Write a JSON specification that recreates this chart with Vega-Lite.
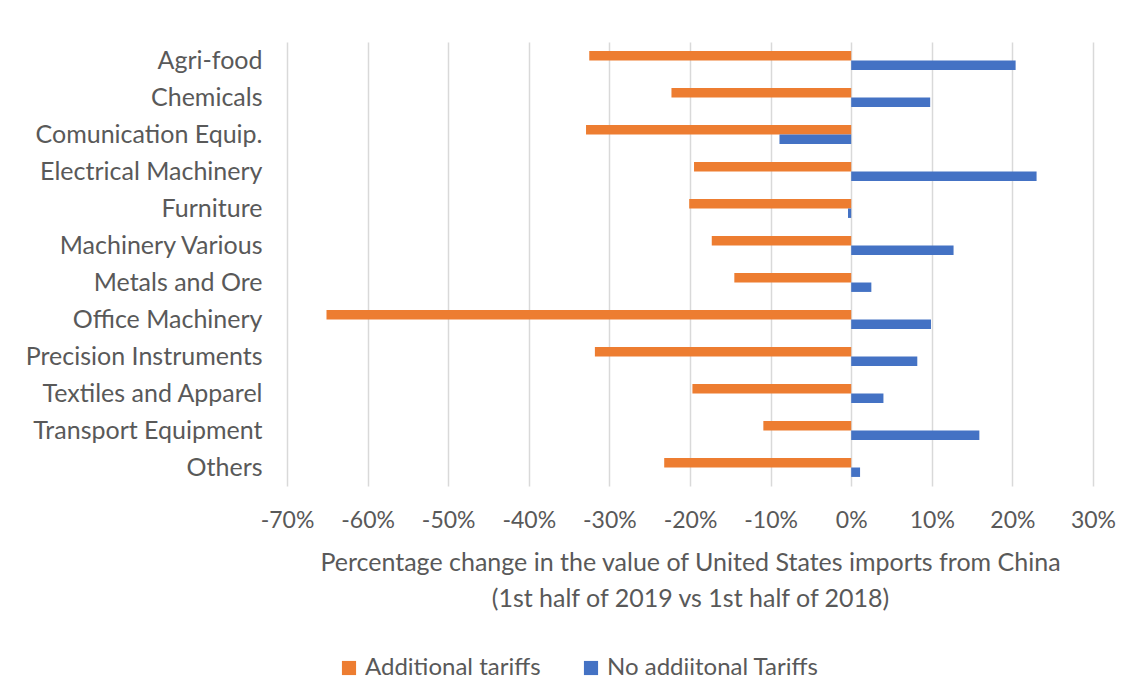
{
  "$schema": "https://vega.github.io/schema/vega-lite/v6.json",
  "width": 806,
  "height": 444,
  "autosize": {"type": "none"},
  "padding": {"left": 287, "top": 42, "right": 38, "bottom": 214},
  "background": "white",
  "config": {
    "font": "Lato",
    "view": {"stroke": null},
    "axis": {"labelColor": "#595959", "titleColor": "#595959", "labelFont": "Lato", "titleFont": "Lato"}
  },
  "data": {
    "values": [
      {"category": "Agri-food", "series": "Additional tariffs", "value": -32.5},
      {"category": "Agri-food", "series": "No addiitonal Tariffs", "value": 20.4},
      {"category": "Chemicals", "series": "Additional tariffs", "value": -22.3},
      {"category": "Chemicals", "series": "No addiitonal Tariffs", "value": 9.8},
      {"category": "Comunication Equip.", "series": "Additional tariffs", "value": -32.9},
      {"category": "Comunication Equip.", "series": "No addiitonal Tariffs", "value": -8.9},
      {"category": "Electrical Machinery", "series": "Additional tariffs", "value": -19.5},
      {"category": "Electrical Machinery", "series": "No addiitonal Tariffs", "value": 23.0},
      {"category": "Furniture", "series": "Additional tariffs", "value": -20.1},
      {"category": "Furniture", "series": "No addiitonal Tariffs", "value": -0.4},
      {"category": "Machinery Various", "series": "Additional tariffs", "value": -17.3},
      {"category": "Machinery Various", "series": "No addiitonal Tariffs", "value": 12.7},
      {"category": "Metals and Ore", "series": "Additional tariffs", "value": -14.5},
      {"category": "Metals and Ore", "series": "No addiitonal Tariffs", "value": 2.5},
      {"category": "Office Machinery", "series": "Additional tariffs", "value": -65.1},
      {"category": "Office Machinery", "series": "No addiitonal Tariffs", "value": 9.9},
      {"category": "Precision Instruments", "series": "Additional tariffs", "value": -31.8},
      {"category": "Precision Instruments", "series": "No addiitonal Tariffs", "value": 8.2},
      {"category": "Textiles and Apparel", "series": "Additional tariffs", "value": -19.7},
      {"category": "Textiles and Apparel", "series": "No addiitonal Tariffs", "value": 4.0},
      {"category": "Transport Equipment", "series": "Additional tariffs", "value": -10.9},
      {"category": "Transport Equipment", "series": "No addiitonal Tariffs", "value": 15.9},
      {"category": "Others", "series": "Additional tariffs", "value": -23.2},
      {"category": "Others", "series": "No addiitonal Tariffs", "value": 1.1}
    ]
  },
  "mark": {"type": "bar"},
  "encoding": {
    "y": {
      "field": "category",
      "type": "nominal",
      "sort": null,
      "scale": {"paddingInner": 0.49, "paddingOuter": 0.245},
      "axis": {
        "title": null,
        "ticks": false,
        "domain": false,
        "labelPadding": 25,
        "labelFontSize": 25,
        "labelLimit": 400
      }
    },
    "yOffset": {
      "field": "series",
      "type": "nominal",
      "sort": ["Additional tariffs", "No addiitonal Tariffs"]
    },
    "x": {
      "field": "value",
      "type": "quantitative",
      "scale": {"domain": [-70, 30], "nice": false},
      "axis": {
        "values": [-70, -60, -50, -40, -30, -20, -10, 0, 10, 20, 30],
        "labelExpr": "datum.value + '%'",
        "labelOverlap": false,
        "labelFlush": false,
        "title": ["Percentage change in the value of United States imports from China", "(1st half of 2019 vs 1st half of 2018)"],
        "titleFontSize": 25,
        "titleFontWeight": "normal",
        "titleLineHeight": 36,
        "titlePadding": 18,
        "labelFontSize": 23,
        "labelPadding": 23,
        "ticks": false,
        "domain": false,
        "grid": true,
        "gridColor": "#d9d9d9",
        "gridWidth": 1.5
      }
    },
    "color": {
      "field": "series",
      "type": "nominal",
      "scale": {"domain": ["Additional tariffs", "No addiitonal Tariffs"], "range": ["#ED7D31", "#4472C4"]},
      "legend": {
        "title": null,
        "orient": "none",
        "direction": "horizontal",
        "legendX": 50,
        "legendY": 614,
        "symbolType": "square",
        "symbolSize": 200,
        "labelFontSize": 24,
        "labelColor": "#595959",
        "labelLimit": 400,
        "columnPadding": 38,
        "symbolStrokeWidth": 0
      }
    }
  }
}
